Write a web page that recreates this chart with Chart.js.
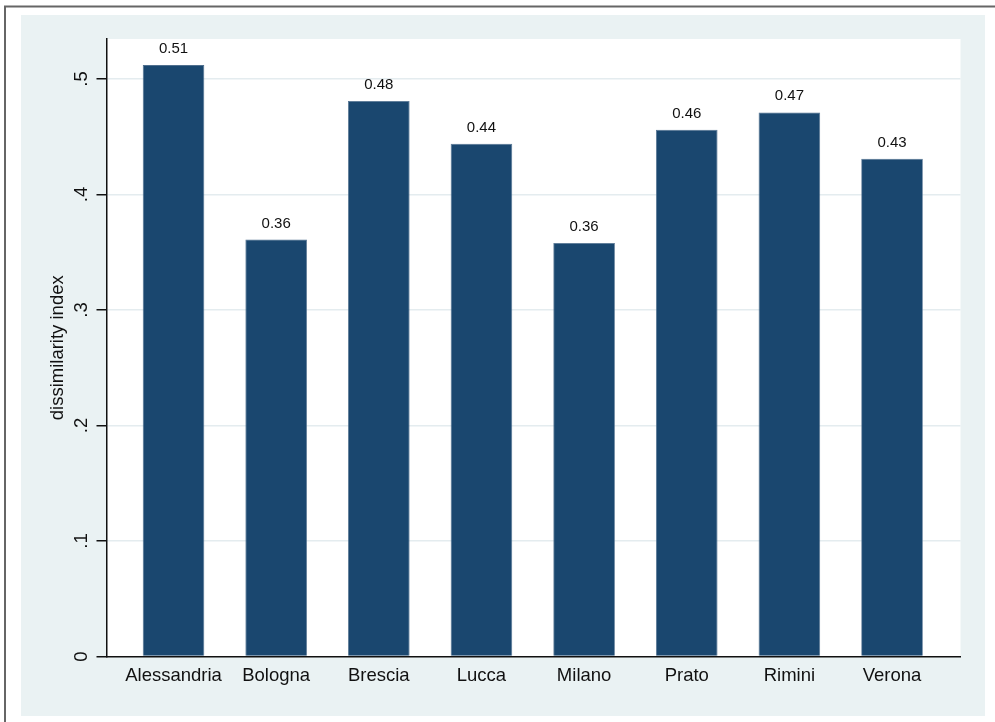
<!DOCTYPE html>
<html>
<head>
<meta charset="utf-8">
<script src="https://cdn.jsdelivr.net/npm/chart.js@4.4.1/dist/chart.umd.min.js"></script>
<style>
  html, body { margin: 0; padding: 0; background: #fff; }
  #wrap { position: relative; width: 995px; height: 722px; }
</style>
</head>
<body>
<div id="wrap"><canvas id="chart"></canvas></div>
<script>
// data
const cities = ['Alessandria', 'Bologna', 'Brescia', 'Lucca', 'Milano', 'Prato', 'Rimini', 'Verona'];
const dissimilarity = [0.512, 0.361, 0.481, 0.444, 0.358, 0.456, 0.471, 0.431];
const yTickValues = [0, 0.1, 0.2, 0.3, 0.4, 0.5];
const yTickLabels = ['0', '.1', '.2', '.3', '.4', '.5'];

const FONT = '"Liberation Sans", Arial, Helvetica, sans-serif';
const NAVY = '#1a476f';
const BG = '#eaf2f3';

// outer frame, light background and white plot region
const backdrop = {
  id: 'backdrop',
  beforeDraw(chart) {
    const { ctx, chartArea: a } = chart;
    ctx.save();
    ctx.fillStyle = '#fff';
    ctx.fillRect(0, 0, chart.width, chart.height);
    ctx.strokeStyle = '#666';
    ctx.lineWidth = 2;
    ctx.beginPath();
    ctx.moveTo(5, chart.height);
    ctx.lineTo(5, 6.5);
    ctx.lineTo(chart.width, 6.5);
    ctx.stroke();
    ctx.fillStyle = BG;
    ctx.fillRect(21, 15, 964, 701);
    ctx.fillStyle = '#fff';
    ctx.fillRect(a.left, a.top, a.right - a.left, a.bottom - a.top);
    ctx.restore();
  }
};

// numbers above bars
const barValues = {
  id: 'barValues',
  afterDatasetsDraw(chart) {
    const { ctx } = chart;
    const meta = chart.getDatasetMeta(0);
    ctx.save();
    ctx.font = '15px ' + FONT;
    ctx.fillStyle = '#111';
    ctx.textAlign = 'center';
    ctx.textBaseline = 'alphabetic';
    meta.data.forEach((bar, i) => {
      ctx.fillText(dissimilarity[i].toFixed(2), bar.x, bar.y - 12);
    });
    ctx.restore();
  }
};

new Chart(document.getElementById('chart'), {
  type: 'bar',
  data: {
    datasets: [{
      data: cities.map((c, i) => ({ x: i, y: dissimilarity[i] })),
      backgroundColor: NAVY,
      borderColor: '#4f6f8e',
      borderWidth: 0.8,
      categoryPercentage: 1,
      barPercentage: 0.6
    }]
  },
  options: {
    responsive: true,
    maintainAspectRatio: false,
    animation: false,
    layout: { padding: { left: 0, top: 39, right: 34.5, bottom: 0 } },
    plugins: {
      legend: { display: false },
      tooltip: { enabled: false }
    },
    scales: {
      x: {
        type: 'linear',
        offset: false,
        min: -0.653,
        max: 7.667,
        afterBuildTicks: (scale) => {
          scale.ticks = cities.map((c, i) => ({ value: i }));
        },
        afterFit: (scale) => { scale.height = 65.5; },
        grid: { color: 'rgba(0,0,0,0)', drawTicks: false, drawOnChartArea: false, offset: false },
        border: { display: true, color: '#111', width: 1.5 },
        ticks: {
          padding: 8,
          autoSkip: false,
          maxRotation: 0,
          color: '#111',
          font: { family: FONT, size: 18.5 },
          callback: (value) => cities[value]
        }
      },
      y: {
        min: 0,
        max: 0.5346,
        afterBuildTicks: (scale) => {
          scale.ticks = yTickValues.map(v => ({ value: v }));
        },
        afterFit: (scale) => { scale.width = 106.5; },
        grid: {
          color: (ctx) => ctx.tick && ctx.tick.value === 0 ? 'rgba(0,0,0,0)' : '#e4ecef',
          lineWidth: 1.5,
          tickColor: '#111',
          tickLength: 10
        },
        border: { display: true, color: '#111', width: 1.5 },
        title: {
          display: true,
          text: 'dissimilarity index',
          color: '#111',
          font: { family: FONT, size: 18.5 },
          padding: { top: 47, bottom: 0 }
        },
        ticks: {
          minRotation: 90,
          maxRotation: 90,
          crossAlign: 'center',
          padding: 7,
          color: '#111',
          font: { family: FONT, size: 18.5 },
          callback: (value) => {
            const i = yTickValues.indexOf(value);
            return i >= 0 ? yTickLabels[i] : '';
          }
        }
      }
    }
  },
  plugins: [backdrop, barValues]
});
</script>
</body>
</html>
